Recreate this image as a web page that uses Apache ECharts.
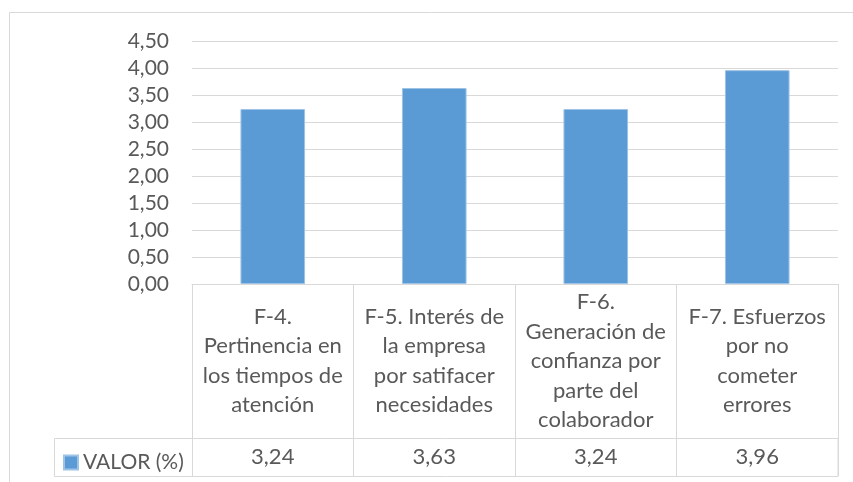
<!DOCTYPE html>
<html>
<head>
<meta charset="utf-8">
<script src="https://cdn.jsdelivr.net/npm/echarts@6/dist/echarts.min.js"></script>
<style>
  html, body { margin: 0; padding: 0; background: #fff; }
  #chart { width: 853px; height: 482px; }
</style>
</head>
<body>
<div id="chart"></div>
<script>
// data
const categories = [
  'F-4.\nPertinencia en\nlos tiempos de\natención',
  'F-5. Interés de\nla empresa\npor satifacer\nnecesidades',
  'F-6.\nGeneración de\nconfianza por\nparte del\ncolaborador',
  'F-7. Esfuerzos\npor no\ncometer\nerrores'
]
const seriesName = 'VALOR (%)'
const values = [3.24, 3.63, 3.24, 3.96]
const yTicks = [0, 0.5, 1, 1.5, 2, 2.5, 3, 3.5, 4, 4.5]

const fontFamily = 'Lato'
const textColor = '#595959'
const lineColor = '#d9d9d9'

function fmt(v) {
  return v.toFixed(2).replace('.', ',')
}

let myChart = echarts.init(document.getElementById('chart'), null, { renderer: 'canvas' })

let option = {
  animation: false,
  textStyle: { fontFamily: fontFamily },
  legend: {
    data: [seriesName],
    left: 58,
    top: 447,
    icon: 'rect',
    itemWidth: 14,
    itemHeight: 14,
    textStyle: { color: textColor, fontSize: 21, fontFamily: fontFamily }
  },
  grid: {
    left: 192,
    right: 15,
    top: 41,
    bottom: 198,
    containLabel: false
  },
  xAxis: [
    {
      type: 'category',
      data: categories,
      axisLine: { lineStyle: { color: lineColor, width: 1 } },
      axisTick: { show: true, length: 192, lineStyle: { color: lineColor, width: 1 } },
      axisLabel: {
        interval: 0,
        margin: 77,
        verticalAlign: 'middle',
        align: 'center',
        color: textColor,
        fontSize: 22,
        lineHeight: 29.5,
        fontFamily: fontFamily
      }
    },
    {
      type: 'category',
      data: values.map(fmt),
      position: 'bottom',
      offset: 154,
      axisLine: { show: false },
      axisTick: { show: false },
      axisLabel: {
        interval: 0,
        margin: 19,
        verticalAlign: 'middle',
        color: textColor,
        fontSize: 22,
        fontFamily: fontFamily
      }
    }
  ],
  yAxis: {
    type: 'value',
    min: yTicks[0],
    max: yTicks[yTicks.length - 1],
    interval: 0.5,
    axisLine: { show: false },
    axisTick: { show: false },
    splitLine: { lineStyle: { color: lineColor, width: 1 } },
    axisLabel: {
      margin: 23,
      color: textColor,
      fontSize: 21,
      fontFamily: fontFamily,
      formatter: fmt
    }
  },
  graphic: [
    // outer chart frame
    {
      type: 'rect',
      shape: { x: 9.5, y: 12.5, width: 900, height: 500 },
      style: { fill: 'none', stroke: lineColor, lineWidth: 1 },
      silent: true
    },
    // value row of the data table
    {
      type: 'rect',
      shape: { x: 54.5, y: 438.5, width: 783.5, height: 38 },
      style: { fill: 'none', stroke: lineColor, lineWidth: 1 },
      silent: true
    }
  ],
  series: [
    {
      name: seriesName,
      type: 'bar',
      barWidth: '40%',
      data: values,
      itemStyle: {
        color: '#5b9bd5',
        borderColor: '#9dc3e6',
        borderWidth: 1
      }
    }
  ]
}

myChart.setOption(option)
</script>
</body>
</html>
